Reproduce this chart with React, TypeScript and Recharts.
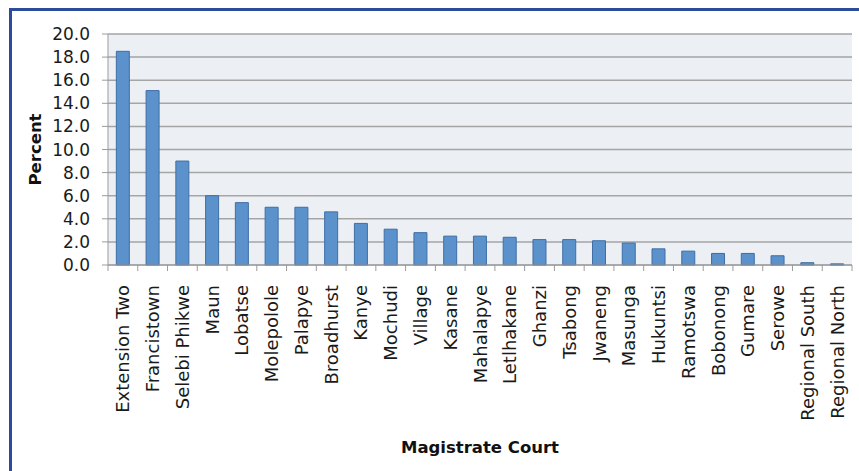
import { Bar, BarChart, CartesianGrid, Label, XAxis, YAxis } from "recharts";

const courts = [
  "Extension Two",
  "Francistown",
  "Selebi Phikwe",
  "Maun",
  "Lobatse",
  "Molepolole",
  "Palapye",
  "Broadhurst",
  "Kanye",
  "Mochudi",
  "Village",
  "Kasane",
  "Mahalapye",
  "Letlhakane",
  "Ghanzi",
  "Tsabong",
  "Jwaneng",
  "Masunga",
  "Hukuntsi",
  "Ramotswa",
  "Bobonong",
  "Gumare",
  "Serowe",
  "Regional South",
  "Regional North",
];

const percents = [
  18.5, 15.1, 9.0, 6.0, 5.4, 5.0, 5.0, 4.6, 3.6, 3.1, 2.8, 2.5, 2.5, 2.4, 2.2,
  2.2, 2.1, 1.9, 1.4, 1.2, 1.0, 1.0, 0.8, 0.2, 0.1,
];

const yTicks = [0, 2, 4, 6, 8, 10, 12, 14, 16, 18, 20];

const data = courts.map((court, i) => ({ court, percent: percents[i] }));

const FONT = "'DejaVu Sans', sans-serif";
const AXIS_GREY = "#9b9b9b";

function CourtTick(props: any) {
  const { x, y, width, payload, index } = props;
  const band = (width ?? 744) / courts.length;
  const ty = y + 20;
  return (
    <g>
      <line x1={x - band / 2} x2={x - band / 2} y1={y} y2={y + 6} stroke={AXIS_GREY} />
      {index === courts.length - 1 && (
        <line x1={x + band / 2} x2={x + band / 2} y1={y} y2={y + 6} stroke={AXIS_GREY} />
      )}
      <text
        x={x}
        y={ty}
        transform={`rotate(-90, ${x}, ${ty})`}
        textAnchor="end"
        dominantBaseline="central"
        fill="#1a1a1a"
        fontSize={18}
        fontFamily={FONT}
      >
        {payload.value}
      </text>
    </g>
  );
}

export default function App() {
  return (
    <div style={{ position: "absolute", left: 0, top: 0, width: 859, height: 471, background: "#fff" }}>
      <div
        style={{
          position: "absolute",
          left: 9,
          top: 8,
          width: 850,
          height: 463,
          borderTop: "3px solid #2d4b9d",
          borderLeft: "3px solid #2d4b9d",
          boxSizing: "border-box",
        }}
      />
      <div style={{ position: "absolute", left: 0, top: 0 }}>
        <BarChart
          width={859}
          height={471}
          data={data}
          margin={{ top: 34, right: 7, left: 8, bottom: 10 }}
          barCategoryGap="28%"
        >
          <CartesianGrid vertical={false} stroke="#a5a5a5" strokeWidth={1.5} fill="#ecf0f5" />
          <XAxis
            dataKey="court"
            interval={0}
            height={196}
            tickSize={0}
            tickMargin={0}
            tickLine={false}
            axisLine={{ stroke: AXIS_GREY }}
            tick={<CourtTick />}
          >
            <Label
              content={(p: any) => {
                const vb = p.viewBox;
                return (
                  <text
                    x={vb.x + vb.width / 2}
                    y={vb.y + 182}
                    textAnchor="middle"
                    dominantBaseline="central"
                    fontFamily={FONT}
                    fontWeight="bold"
                    fontSize={16.5}
                    fill="#111"
                  >
                    Magistrate Court
                  </text>
                );
              }}
            />
          </XAxis>
          <YAxis
            width={100}
            domain={[0, 20]}
            ticks={yTicks}
            interval={0}
            tickSize={6}
            tickMargin={12}
            tickFormatter={(v: number) => v.toFixed(1)}
            tick={{ fill: "#1a1a1a", fontSize: 17, fontFamily: FONT }}
            tickLine={{ stroke: AXIS_GREY }}
            axisLine={{ stroke: AXIS_GREY }}
          >
            <Label
              content={(p: any) => {
                const vb = p.viewBox;
                const cx = vb.x + 27;
                const cy = vb.y + vb.height / 2;
                return (
                  <text
                    x={cx}
                    y={cy}
                    transform={`rotate(-90, ${cx}, ${cy})`}
                    textAnchor="middle"
                    dominantBaseline="central"
                    fontFamily={FONT}
                    fontWeight="bold"
                    fontSize={16.5}
                    fill="#111"
                  >
                    Percent
                  </text>
                );
              }}
            />
          </YAxis>
          <Bar
            dataKey="percent"
            fill="#5b92cb"
            stroke="#3f6ea5"
            strokeWidth={1}
            isAnimationActive={false}
          />
        </BarChart>
      </div>
    </div>
  );
}
